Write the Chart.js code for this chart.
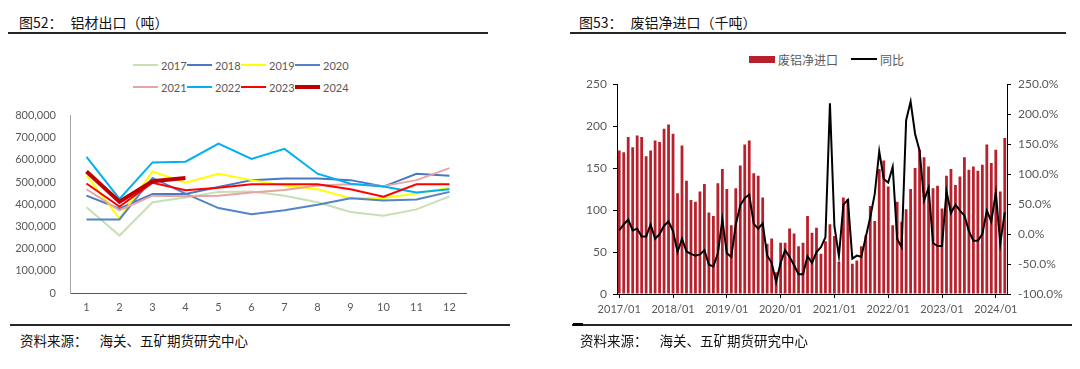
<!DOCTYPE html>
<html lang="zh">
<head>
<meta charset="utf-8">
<title>铝材出口 / 废铝净进口</title>
<script src="https://cdn.jsdelivr.net/npm/chart.js@4.4.1/dist/chart.umd.min.js"></script>
<style>
  body { margin: 0; width: 1080px; height: 369px; background: #fff; position: relative; overflow: hidden; font-family: "Noto Sans CJK SC", sans-serif; }
  .title { position: absolute; top: 13px; font-size: 14px; line-height: 18px; color: #111; white-space: pre; }
  .rule { position: absolute; height: 2px; background: #262626; }
  .source { position: absolute; top: 331px; font-size: 13.5px; line-height: 18px; color: #111; white-space: pre; }
  .legend { position: absolute; display: flex; flex-wrap: wrap; font-family: Lato, sans-serif; font-size: 11px; color: #595959; }
  .legend.cjk { font-family: "Noto Sans CJK SC", sans-serif; font-size: 12px; }
  .lg-item { display: flex; align-items: center; height: 16px; }
  .lg-mark { display: inline-block; margin-right: 3px; }
  canvas { position: absolute; }
</style>
</head>
<body>

<div class="title" style="left:19px">图52：<span style="margin-left:8px">铝材出口（吨）</span></div>
<div class="rule" style="left:8px; top:32px; width:480px"></div>
<div class="legend" id="exportLegend" style="left:133px; top:57px; width:220px"></div>
<canvas id="exportChart" width="490" height="225" style="left:0; top:95px"></canvas>
<div class="rule" style="left:10px; top:324px; width:500px"></div>
<div class="source" style="left:20px">资料来源：<span style="margin-left:12px">海关、五矿期货研究中心</span></div>

<div class="title" style="left:579px">图53：<span style="margin-left:8px">废铝净进口（千吨）</span></div>
<div class="rule" style="left:570px; top:32px; width:496px"></div>
<div class="legend cjk" id="scrapLegend" style="left:749px; top:51px; width:200px"></div>
<canvas id="scrapChart" width="520" height="255" style="left:560px; top:70px"></canvas>
<div class="rule" style="left:572px; top:324px; width:500px"></div>
<div class="rule" style="left:573px; top:323px; width:10px; height:3px; background:#000"></div>
<div class="source" style="left:580px">资料来源：<span style="margin-left:12px">海关、五矿期货研究中心</span></div>

<script>
// ---- 图52 铝材出口（吨）----
const monthLabels = ["1", "2", "3", "4", "5", "6", "7", "8", "9", "10", "11", "12"];
const yearNames = ["2017", "2018", "2019", "2020", "2021", "2022", "2023", "2024"];

const export2017 = [387000, 259000, 409000, 431000, 456000, 458000, 439000, 409000, 365000, 348000, 377000, 436000];
const export2018 = [439000, 380000, 446000, 446000, 478000, 509000, 516000, 516000, 509000, 480000, 538000, 529000];
const export2019 = [530000, 336000, 548000, 497000, 538000, 509000, 485000, 468000, 428000, 428000, 449000, 475000];
const export2020 = [332000, 332000, 519000, 448000, 383000, 355000, 373000, 398000, 427000, 417000, 422000, 456000];
const export2021 = [468000, 373000, 439000, 436000, 439000, 453000, 465000, 485000, 490000, 482000, 509000, 563000];
const export2022 = [614000, 424000, 589000, 592000, 674000, 605000, 650000, 538000, 493000, 480000, 453000, 468000];
const export2023 = [494000, 390000, 497000, 463000, 475000, 490000, 490000, 490000, 468000, 434000, 490000, 490000];
const export2024 = [548000, 412000, 504000, 519000];

const exportTicks = [0, 100000, 200000, 300000, 400000, 500000, 600000, 700000, 800000];

// ---- 图53 废铝净进口（千吨）----
const scrapYears = ["2017", "2018", "2019", "2020", "2021", "2022", "2023", "2024"];
const scrapMonthNames = ["01", "02", "03", "04", "05", "06", "07", "08", "09", "10", "11", "12"];

const scrapNetImport = [
  171, 169, 187, 175, 189, 187, 164, 171, 183, 181, 197, 202,
  191, 120, 177, 135, 112, 110, 122, 131, 97, 93, 132, 149,
  125, 82, 126, 153, 178, 183, 144, 141, 115, 60, 66, 26,
  61, 61, 78, 72, 57, 61, 93, 73, 79, 48, 63, 83,
  69, 38, 115, 113, 36, 40, 57, 70, 105, 87, 149, 159,
  128, 82, 110, 86, 101, 125, 150, 172, 163, 152, 126, 129,
  102, 141, 149, 130, 140, 163, 148, 152, 147, 154, 178, 156,
  172, 122, 186
];

const scrapYoY = [
  6, 16, 24, 6, 9, -4, -4, 16, -8, 0, 14, 21,
  5, -30, -8, -29, -33, -36, -34, -27, -51, -54, -32, 24,
  -32, -38, 16, 48, 60, 66, 17, 9, 18, -36, -48, -80,
  -48, -27, -38, -52, -67, -67, -37, -48, -30, -22, -5, 218,
  13, -37, 49, 57, -41, -36, -38, -5, 28, 67, 138, 92,
  86, 112, -8, -22, 190, 221, 167, 139, 56, 77, -15, -20,
  -20, 71, 35, 49, 39, 31, 5, -11, -11, 0, 39, 21,
  69, -16, 36
];

const scrapLabels = [];
for (let y = 0; y < scrapYears.length; y++) {
  for (let m = 0; m < scrapMonthNames.length; m++) {
    if (scrapLabels.length < scrapNetImport.length) {
      scrapLabels.push(scrapYears[y] + "/" + scrapMonthNames[m]);
    }
  }
}

// styles
const yearColors = ["#C6E0B4", "#4A78C2", "#FFFF00", "#5383C8", "#E6A4A4", "#00B0F0", "#FF0000", "#C00000"];
const barColor = "#B8202B";
const tickFont = { family: "Lato", size: 11 };
const tickColor = "#595959";

const exportSeries = [export2017, export2018, export2019, export2020, export2021, export2022, export2023, export2024];

function makeLegend(box, items) {
  for (let i = 0; i < items.length; i++) {
    const it = items[i];
    const item = document.createElement("div");
    item.classList.add("lg-item");
    if (it.width) item.style.width = it.width + "px";
    if (it.gap) item.style.marginRight = it.gap + "px";
    if (it.rowGap) item.style.marginBottom = it.rowGap + "px";

    const mark = document.createElement("span");
    mark.classList.add("lg-mark");
    mark.style.width = it.markW + "px";
    mark.style.height = it.markH + "px";
    mark.style.background = it.color;

    const text = document.createElement("span");
    text.textContent = it.label;

    item.appendChild(mark);
    item.appendChild(text);
    box.appendChild(item);
  }
}

makeLegend(document.getElementById("exportLegend"), yearNames.map((name, i) => ({
  label: name, color: yearColors[i], markW: 25, markH: i === 7 ? 4 : 2, width: 54, rowGap: 6
})));

makeLegend(document.getElementById("scrapLegend"), [
  { label: "废铝净进口", color: barColor, markW: 26, markH: 7, gap: 13 },
  { label: "同比", color: "#000", markW: 26, markH: 2 }
]);

new Chart(document.getElementById("exportChart"), {
  type: "line",
  data: {
    labels: monthLabels,
    datasets: exportSeries.map((s, i) => ({
      label: yearNames[i],
      data: s,
      borderColor: yearColors[i],
      backgroundColor: yearColors[i],
      borderWidth: i === 7 ? 4 : 2,
      pointRadius: 0,
      tension: 0,
      order: 8 - i
    }))
  },
  options: {
    responsive: false,
    animation: false,
    layout: { padding: { top: 16, right: 24, left: 0, bottom: 0 } },
    plugins: { legend: { display: false }, tooltip: { enabled: false } },
    scales: {
      x: {
        offset: true,
        grid: { display: false, drawTicks: false },
        border: { color: "#595959", width: 1 },
        ticks: { color: tickColor, font: tickFont, padding: 8, maxRotation: 0 },
        afterFit: s => { s.height = 27; }
      },
      y: {
        min: exportTicks[0],
        max: exportTicks[exportTicks.length - 1],
        afterBuildTicks: s => { s.ticks = exportTicks.map(v => ({ value: v })); },
        grid: { display: false, drawTicks: false },
        border: { color: "#A6A6A6", width: 1 },
        ticks: { color: tickColor, font: tickFont, padding: 14, callback: v => v.toLocaleString("en-US") },
        afterFit: s => { s.width = 70; }
      }
    }
  }
});

new Chart(document.getElementById("scrapChart"), {
  data: {
    labels: scrapLabels,
    datasets: [
      {
        type: "line",
        label: "同比",
        data: scrapYoY,
        yAxisID: "y1",
        borderColor: "#000",
        borderWidth: 2,
        pointRadius: 0,
        tension: 0,
        order: 0
      },
      {
        type: "bar",
        label: "废铝净进口",
        data: scrapNetImport,
        yAxisID: "y",
        backgroundColor: barColor,
        barPercentage: 0.62,
        categoryPercentage: 1,
        order: 1
      }
    ]
  },
  options: {
    responsive: false,
    animation: false,
    layout: { padding: { top: 13, right: 0, left: 0, bottom: 0 } },
    plugins: { legend: { display: false }, tooltip: { enabled: false } },
    scales: {
      x: {
        offset: true,
        grid: { offset: false, drawOnChartArea: false, tickLength: 4, color: "#000" },
        border: { color: "#000", width: 1 },
        ticks: {
          autoSkip: false,
          maxRotation: 0,
          color: tickColor,
          font: tickFont,
          padding: 5,
          callback: function (v) {
            const l = this.getLabelForValue(v);
            return l.endsWith("/01") ? l : null;
          }
        },
        afterFit: s => { s.height = 31; }
      },
      y: {
        position: "left",
        min: 0,
        max: 250,
        ticks: { stepSize: 50, color: tickColor, font: { family: "Lato", size: 12 }, padding: 6 },
        grid: { drawOnChartArea: false, tickLength: 4, color: "#000" },
        border: { color: "#000", width: 1 },
        afterFit: s => { s.width = 57; }
      },
      y1: {
        position: "right",
        min: -100,
        max: 250,
        ticks: { stepSize: 50, color: tickColor, font: { family: "Lato", size: 12 }, padding: 7, callback: v => v.toFixed(1) + "%" },
        grid: { drawOnChartArea: false, tickLength: 4, color: "#000" },
        border: { color: "#000", width: 1 },
        afterFit: s => { s.width = 73; }
      }
    }
  }
});
</script>
</body>
</html>
